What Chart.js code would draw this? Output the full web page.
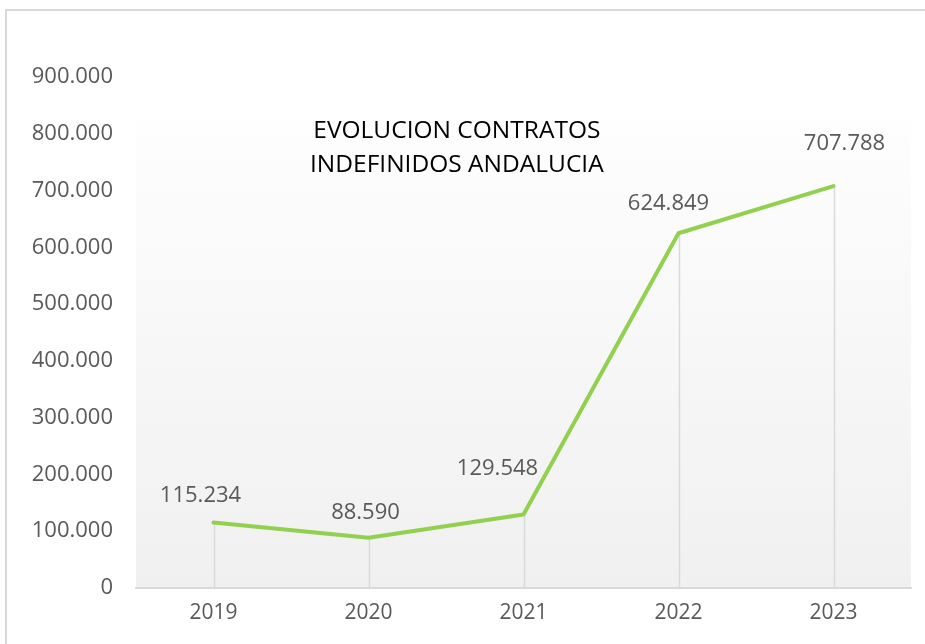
<!DOCTYPE html>
<html>
<head>
<meta charset="utf-8">
<script src="https://cdn.jsdelivr.net/npm/chart.js@4/dist/chart.umd.min.js"></script>
<style>
  html, body { margin: 0; padding: 0; background: #fff; }
  #wrap { width: 925px; height: 644px; }
</style>
</head>
<body>
<div id="wrap"><canvas id="chart" width="925" height="644"></canvas></div>
<script>
const years = ['2019', '2020', '2021', '2022', '2023'];
const contratos = [115234, 88590, 129548, 624849, 707788];
const titleLines = ['EVOLUCION CONTRATOS', 'INDEFINIDOS ANDALUCIA'];
const yMax = 900000;
const yStep = 100000;

const FONT = '"Open Sans", "Noto Sans", sans-serif';
const GREY_TEXT = '#595959';

function formatDots(v) {
  return String(Math.round(v)).replace(/\B(?=(\d{3})+(?!\d))/g, '.');
}

// outer frame + plot area gradient
const backdrop = {
  id: 'backdrop',
  beforeDraw(chart) {
    const { ctx, chartArea, scales } = chart;
    ctx.save();
    ctx.fillStyle = '#fff';
    ctx.fillRect(0, 0, chart.width, chart.height);
    ctx.strokeStyle = '#d9d9d9';
    ctx.lineWidth = 2;
    ctx.strokeRect(6, 10, chart.width + 10, chart.height + 10);

    const top = scales.y.getPixelForValue(825000);
    const g = ctx.createLinearGradient(0, top, 0, chartArea.bottom);
    g.addColorStop(0, '#fefefe');
    g.addColorStop(1, '#f0f0f0');
    ctx.fillStyle = g;
    ctx.fillRect(chartArea.left, top, chartArea.right - chartArea.left, chartArea.bottom - top);
    ctx.restore();
  },
  beforeDatasetsDraw(chart) {
    // drop lines from each point to the axis
    const { ctx, scales } = chart;
    const meta = chart.getDatasetMeta(0);
    ctx.save();
    ctx.strokeStyle = '#d9d9d9';
    ctx.lineWidth = 1.5;
    meta.data.forEach(pt => {
      ctx.beginPath();
      ctx.moveTo(Math.round(pt.x) + 0.5, pt.y);
      ctx.lineTo(Math.round(pt.x) + 0.5, scales.y.bottom);
      ctx.stroke();
    });
    ctx.restore();
  }
};

const overlayText = {
  id: 'overlayText',
  afterDatasetsDraw(chart, args, opts) {
    const { ctx, chartArea } = chart;
    const meta = chart.getDatasetMeta(0);
    ctx.save();
    ctx.textAlign = 'center';
    ctx.textBaseline = 'middle';

    ctx.font = '22px ' + FONT;
    ctx.fillStyle = GREY_TEXT;
    meta.data.forEach((pt, i) => {
      const [dx, dy] = opts.nudge[i];
      ctx.fillText(formatDots(contratos[i]), pt.x + dx, pt.y + dy);
    });

    ctx.font = '24.5px ' + FONT;
    ctx.fillStyle = '#000';
    const cx = chartArea.left + (chartArea.right - chartArea.left) * 0.414;
    titleLines.forEach((t, i) => ctx.fillText(t, cx, 131 + i * 34));
    ctx.restore();
  }
};

new Chart(document.getElementById('chart'), {
  type: 'line',
  data: {
    labels: years,
    datasets: [{
      label: 'Contratos indefinidos',
      data: contratos,
      borderColor: '#92d050',
      borderWidth: 4,
      borderCapStyle: 'round',
      borderJoinStyle: 'round',
      pointRadius: 0,
      tension: 0
    }]
  },
  options: {
    responsive: false,
    animation: false,
    layout: { padding: { top: 77, right: 14, bottom: 18, left: 0 } },
    plugins: {
      legend: { display: false },
      tooltip: { enabled: false },
      overlayText: {
        nudge: [[-13, -27], [-3, -25], [-26, -46], [-10, -29], [11, -42]]
      }
    },
    scales: {
      x: {
        offset: true,
        grid: { display: false, drawTicks: false },
        border: { display: true, color: '#d9d9d9', width: 2 },
        ticks: { color: GREY_TEXT, font: { family: FONT, size: 21 }, padding: 12 },
        afterFit(s) { s.height = 38; }
      },
      y: {
        min: 0,
        max: yMax,
        grid: { display: false, drawTicks: false },
        border: { display: false },
        ticks: {
          stepSize: yStep,
          color: GREY_TEXT,
          font: { family: FONT, size: 22 },
          padding: 23,
          callback: v => formatDots(v)
        },
        afterFit(s) { s.width = 136; }
      }
    }
  },
  plugins: [backdrop, overlayText]
});
</script>
</body>
</html>
